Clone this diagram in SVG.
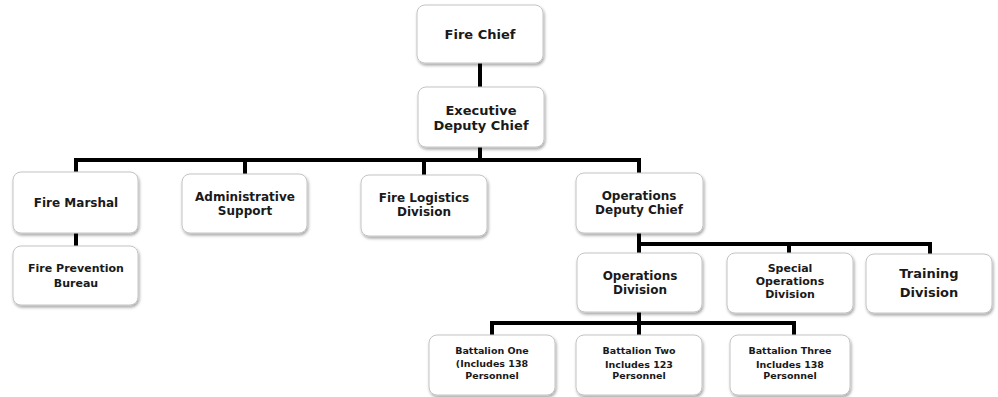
<svg xmlns="http://www.w3.org/2000/svg" width="998" height="397" viewBox="0 0 998 397">
  <defs>
    <filter id="shadow" x="-10%" y="-10%" width="125%" height="135%">
      <feDropShadow dx="1" dy="2" stdDeviation="1.4" flood-color="#000" flood-opacity="0.35"/>
    </filter>
  </defs>
  <style>
    .box { fill: #ffffff; stroke: #c4c4c4; stroke-width: 1; filter: url(#shadow); }
    .lbl { font-family: "DejaVu Sans", Verdana, sans-serif; font-weight: bold; fill: #1a1a1a; text-anchor: middle; }
    .big { font-size: 13px; }
    .mid { font-size: 12px; }
    .sml { font-size: 11px; }
    .tiny { font-size: 9.5px; }
    .wire { stroke: #000; stroke-width: 4; fill: none; stroke-linecap: butt; }
  </style>

  <rect width="998" height="397" fill="#ffffff"/>

  <!-- connectors -->
  <g id="connectors">
    <line class="wire" x1="480" y1="63" x2="480" y2="87"/>
    <line class="wire" x1="480" y1="147" x2="480" y2="160"/>
    <path class="wire" d="M76 172 V160 H639 V173"/>
    <line class="wire" x1="245" y1="160" x2="245" y2="174"/>
    <line class="wire" x1="424" y1="160" x2="424" y2="175"/>
    <line class="wire" x1="76" y1="233" x2="76" y2="246"/>
    <path class="wire" d="M639 233 V253"/>
    <path class="wire" d="M639 244 H930 V254"/>
    <line class="wire" x1="789" y1="244" x2="789" y2="253"/>
    <path class="wire" d="M639 312 V335"/>
    <path class="wire" d="M492 335 V323 H794 V335"/>
  </g>

  <g id="fire-chief">
    <rect class="box" x="417" y="5" width="126" height="58" rx="8"/>
    <text class="lbl big" x="480" y="39">Fire Chief</text>
  </g>

  <g id="executive-deputy-chief">
    <rect class="box" x="418" y="87" width="126" height="60" rx="8"/>
    <text class="lbl big" x="481" y="115">Executive</text>
    <text class="lbl big" x="481" y="130">Deputy Chief</text>
  </g>

  <g id="fire-marshal">
    <rect class="box" x="13" y="172" width="125" height="61" rx="8"/>
    <text class="lbl mid" x="76" y="207">Fire Marshal</text>
  </g>

  <g id="fire-prevention-bureau">
    <rect class="box" x="13" y="246" width="125" height="59" rx="8"/>
    <text class="lbl sml" x="76" y="272">Fire Prevention</text>
    <text class="lbl sml" x="76" y="287">Bureau</text>
  </g>

  <g id="administrative-support">
    <rect class="box" x="182" y="174" width="125" height="59" rx="8"/>
    <text class="lbl mid" x="245" y="201">Administrative</text>
    <text class="lbl mid" x="245" y="215">Support</text>
  </g>

  <g id="fire-logistics-division">
    <rect class="box" x="361" y="175" width="126" height="61" rx="8"/>
    <text class="lbl mid" x="424" y="202">Fire Logistics</text>
    <text class="lbl mid" x="424" y="216">Division</text>
  </g>

  <g id="operations-deputy-chief">
    <rect class="box" x="576" y="173" width="127" height="60" rx="8"/>
    <text class="lbl mid" x="639" y="200">Operations</text>
    <text class="lbl mid" x="639" y="214">Deputy Chief</text>
  </g>

  <g id="operations-division">
    <rect class="box" x="577" y="253" width="125" height="59" rx="8"/>
    <text class="lbl mid" x="640" y="280">Operations</text>
    <text class="lbl mid" x="640" y="294">Division</text>
  </g>

  <g id="special-operations-division">
    <rect class="box" x="727" y="253" width="126" height="60" rx="8"/>
    <text class="lbl sml" x="790" y="272">Special</text>
    <text class="lbl sml" x="790" y="285">Operations</text>
    <text class="lbl sml" x="790" y="298">Division</text>
  </g>

  <g id="training-division">
    <rect class="box" x="866" y="254" width="126" height="59" rx="8"/>
    <text class="lbl big" x="929" y="278">Training</text>
    <text class="lbl big" x="929" y="297">Division</text>
  </g>

  <g id="battalion-one">
    <rect class="box" x="429" y="335" width="126" height="60" rx="8"/>
    <text class="lbl tiny" x="492" y="354">Battalion  One</text>
    <text class="lbl tiny" x="492" y="367">(Includes 138</text>
    <text class="lbl tiny" x="492" y="379">Personnel</text>
  </g>

  <g id="battalion-two">
    <rect class="box" x="576" y="335" width="126" height="60" rx="8"/>
    <text class="lbl tiny" x="639" y="354">Battalion Two</text>
    <text class="lbl tiny" x="639" y="368">Includes 123</text>
    <text class="lbl tiny" x="639" y="379">Personnel</text>
  </g>

  <g id="battalion-three">
    <rect class="box" x="730" y="335" width="120" height="60" rx="8"/>
    <text class="lbl tiny" x="790" y="354">Battalion Three</text>
    <text class="lbl tiny" x="790" y="368">Includes 138</text>
    <text class="lbl tiny" x="790" y="379">Personnel</text>
  </g>
</svg>
